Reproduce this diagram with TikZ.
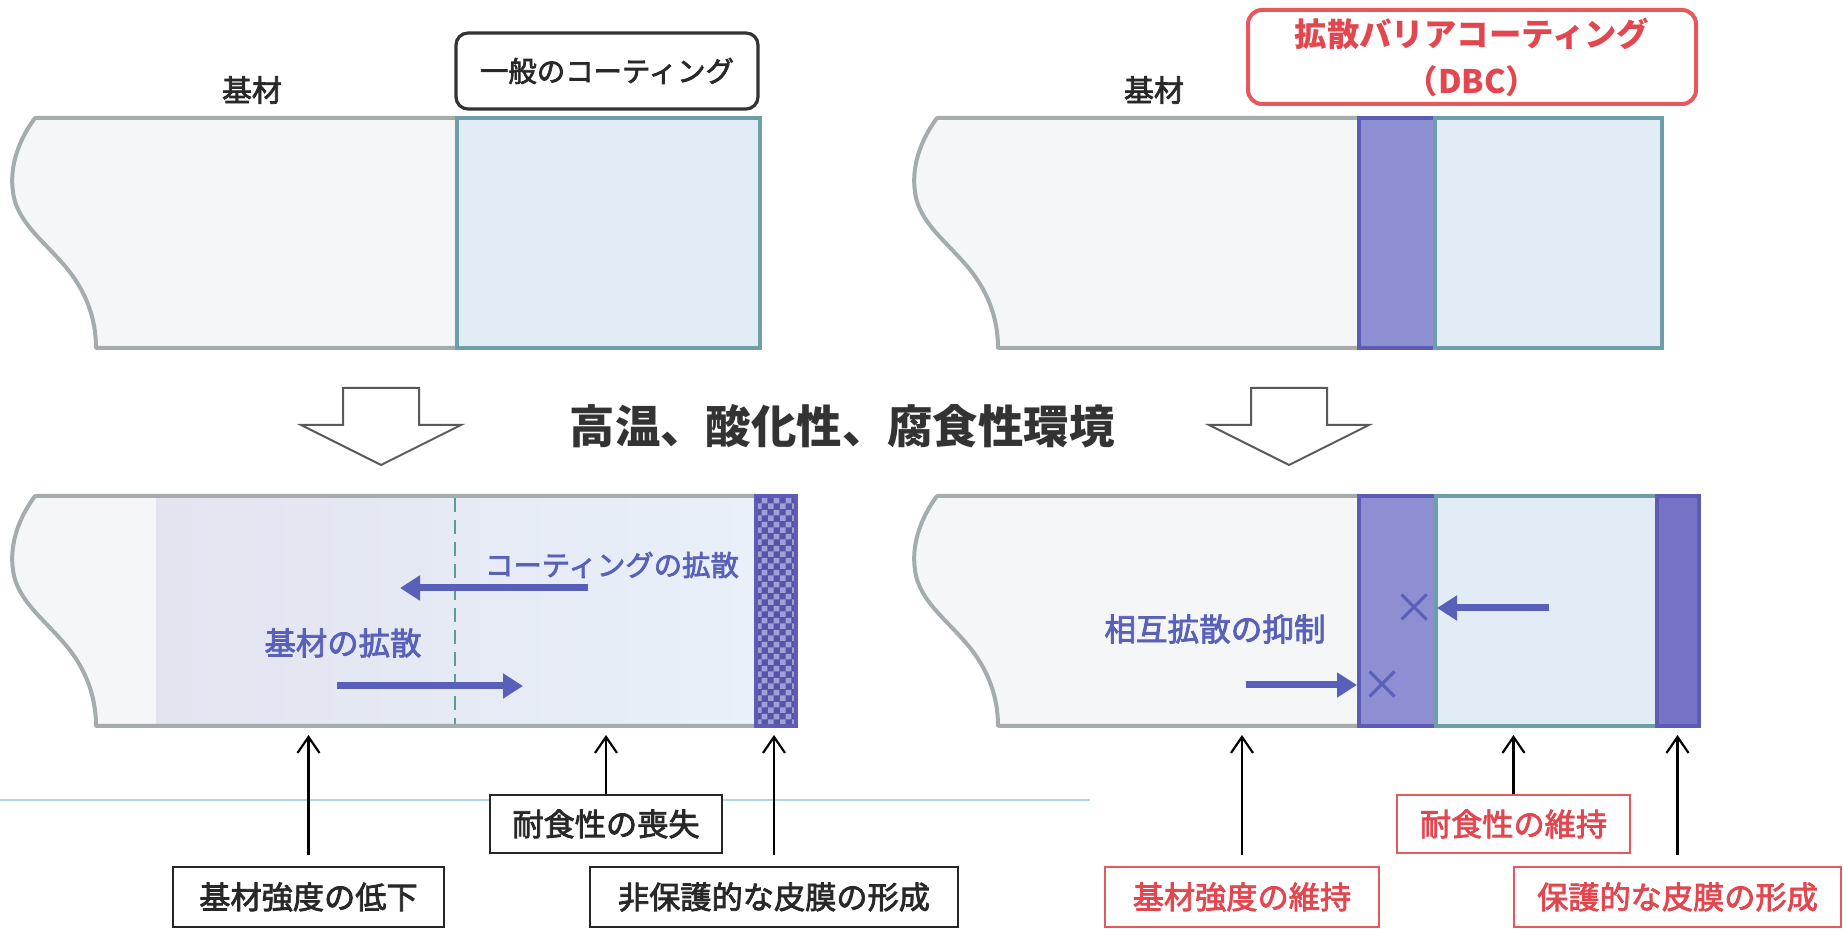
\documentclass[tikz,border=0pt]{standalone}
\usepackage{fontspec}
\setmainfont{Noto Sans CJK JP}
\newfontfamily\medfont{Noto Sans CJK JP}[FakeBold=2.5]
\usetikzlibrary{arrows.meta,patterns,shapes.misc}
\pgfdeclarepatternformonly{finecheck}{\pgfpointorigin}{\pgfqpoint{6pt}{6pt}}{\pgfqpoint{6pt}{6pt}}{%
  \pgfpathrectangle{\pgfpointorigin}{\pgfqpoint{3pt}{3pt}}%
  \pgfpathrectangle{\pgfqpoint{3pt}{3pt}}{\pgfqpoint{3pt}{3pt}}%
  \pgfusepath{fill}}
\definecolor{subfill}{RGB}{244,246,248}
\definecolor{suboutline}{RGB}{165,172,174}
\definecolor{coatfill}{RGB}{226,236,247}
\definecolor{coatline}{RGB}{110,158,166}
\definecolor{barfill}{RGB}{142,142,210}
\definecolor{barline}{RGB}{92,92,180}
\definecolor{outfill}{RGB}{116,115,198}
\definecolor{diffblue}{RGB}{88,96,185}
\definecolor{labred}{RGB}{226,70,78}
\definecolor{boxred}{RGB}{230,88,92}
\definecolor{darktext}{RGB}{40,40,40}
\definecolor{tealline}{RGB}{170,218,222}
\definecolor{chkdark}{RGB}{84,84,168}
\definecolor{chklight}{RGB}{160,160,212}
\definecolor{lav}{RGB}{226,228,240}
\definecolor{lblue}{RGB}{233,240,249}
\definecolor{dashteal}{RGB}{94,156,156}
\tikzset{
  substrate/.style={fill=subfill, draw=suboutline, line width=2pt, line join=round},
  coatlayer/.style={fill=coatfill, draw=coatline, line width=2pt},
  barrier/.style={fill=barfill, draw=barline, line width=2pt},
  outerlayer/.style={fill=outfill, draw=barline, line width=1.6pt},
  hollow/.style={fill=white, draw=black!65, line width=1pt, line join=miter},
  diffarrow/.style={draw=diffblue, line width=3.5pt, -{Triangle[width=12pt,length=10pt]}},
  xmark/.style={cross out, draw=diffblue, line width=1.5pt, minimum size=11pt, inner sep=0pt},
  blacklabel/.style={font=\medfont\fontsize{15pt}{18pt}\selectfont, text=darktext, inner sep=0pt},
  bluelabel/.style={text=diffblue, inner sep=0pt},
  effbox/.style={draw=black!85, fill=white, line width=1.2pt, minimum height=30pt, inner sep=0pt, font=\medfont\fontsize{15.6pt}{18pt}\selectfont, text=darktext},
  redbox/.style={effbox, draw=boxred, text=labred},
  uparrow/.style={draw=black, line width=1.1pt, -{Straight Barb[length=8pt,width=11pt]}}
}
\begin{document}
\begin{tikzpicture}[x=0.5pt,y=-0.5pt]
\useasboundingbox (0,0) rectangle (1843,929);

% ---------- top left panel ----------
\path[substrate] (457,118) -- (35,118) .. controls (20,138) and (9,165) .. (13,192) .. controls (17,225) and (50,245) .. (72,275) .. controls (90,300) and (96,325) .. (96,348) -- (457,348) -- cycle;
\path[coatlayer] (457,118) rectangle (760,348);

% ---------- top right panel ----------
\begin{scope}[shift={(902,0)}]
\path[substrate] (457,118) -- (35,118) .. controls (20,138) and (9,165) .. (13,192) .. controls (17,225) and (50,245) .. (72,275) .. controls (90,300) and (96,325) .. (96,348) -- (457,348) -- cycle;
\path[barrier] (457,118) rectangle (533,348);
\path[coatlayer] (533,118) rectangle (760,348);
\end{scope}

% ---------- labels top ----------
\node[blacklabel] (sub1) at (252,90) {基材};
\node[draw=black!80, line width=1.6pt, rounded corners=6pt, minimum width=151pt, minimum height=38pt, inner sep=0pt, font=\medfont\fontsize{14.2pt}{17pt}\selectfont, text=darktext] (gen) at (607,71) {一般のコーティング};
\node[blacklabel] (sub2) at (1154,90) {基材};
\node[draw=boxred, line width=2pt, rounded corners=7pt, minimum width=224pt, minimum height=47pt, inner sep=0pt, align=center, text=labred, font=\fontsize{16.2pt}{23.5pt}\selectfont\bfseries] (dbc) at (1472,57) {拡散バリアコーティング\\（DBC）};

% ---------- hollow arrows and heading ----------
\path[hollow] (343,388) -- (419,388) -- (419,425) -- (461,425) -- (381,465) -- (301,425) -- (343,425) -- cycle;
\path[hollow] (1251,388) -- (1327,388) -- (1327,425) -- (1369,425) -- (1289,465) -- (1209,425) -- (1251,425) -- cycle;
\node[font=\fontsize{22.7pt}{26pt}\selectfont\bfseries, text=black!80, inner sep=0pt] (env) at (842,426) {高温、酸化性、腐食性環境};

% ---------- bottom left panel ----------
\begin{scope}[shift={(0,378)}]
\fill[subfill] (756,118) -- (35,118) .. controls (20,138) and (9,165) .. (13,192) .. controls (17,225) and (50,245) .. (72,275) .. controls (90,300) and (96,325) .. (96,348) -- (756,348) -- cycle;
\shade[left color=lav, right color=lblue] (156,118) rectangle (756,348);
\draw[suboutline, line width=2pt, line join=round] (756,118) -- (35,118) .. controls (20,138) and (9,165) .. (13,192) .. controls (17,225) and (50,245) .. (72,275) .. controls (90,300) and (96,325) .. (96,348) -- (756,348);
\draw[dashteal, line width=0.8pt, dash pattern=on 7pt off 4pt] (455,120) -- (455,346);
\fill[chkdark] (756,118) rectangle (796,348);
\fill[pattern=finecheck, pattern color=chklight] (756,118) rectangle (796,348);
\draw[barline, line width=1.6pt] (756,118) rectangle (796,348);
\end{scope}

% ---------- bottom right panel ----------
\begin{scope}[shift={(902,378)}]
\path[substrate] (457,118) -- (35,118) .. controls (20,138) and (9,165) .. (13,192) .. controls (17,225) and (50,245) .. (72,275) .. controls (90,300) and (96,325) .. (96,348) -- (457,348) -- cycle;
\path[barrier] (457,118) rectangle (534,348);
\path[coatlayer] (534,118) rectangle (755,348);
\path[outerlayer] (755,118) rectangle (797,348);
\end{scope}

% ---------- diffusion arrows and labels ----------
\node[bluelabel, font=\medfont\fontsize{14.2pt}{17pt}\selectfont] (cdiff) at (612,565) {コーティングの拡散};
\node[bluelabel, font=\medfont\fontsize{15.7pt}{18pt}\selectfont] (sdiff) at (343,643) {基材の拡散};
\node[bluelabel, font=\medfont\fontsize{15.8pt}{18pt}\selectfont] (inter) at (1215,629) {相互拡散の抑制};
\coordinate (ca1) at (588,588); \coordinate (ca2) at (400,588);
\coordinate (sa1) at (337,686); \coordinate (sa2) at (523,686);
\coordinate (da1) at (1549,608); \coordinate (da2) at (1437,608);
\coordinate (db1) at (1246,685); \coordinate (db2) at (1357,685);
\draw[diffarrow] (ca1) -- (ca2);
\draw[diffarrow] (sa1) -- (sa2);
\draw[diffarrow] (da1) -- (da2);
\draw[diffarrow] (db1) -- (db2);
\node[xmark] (x1) at (1414,607) {};
\node[xmark] (x2) at (1382,684) {};

% ---------- teal line ----------
\coordinate (tl1) at (0,800); \coordinate (tl2) at (1090,800);
\draw[tealline, line width=1pt] (tl1) -- (tl2);

% ---------- effect boxes ----------
\coordinate (tipline) at (0,735);
\node[effbox, minimum width=135.5pt] (b1) at (308.5,897) {基材強度の低下};
\node[effbox, minimum width=116pt, minimum height=29pt] (b2) at (606,824) {耐食性の喪失};
\node[effbox, minimum width=184pt] (b3) at (774,897) {非保護的な皮膜の形成};
\node[redbox, minimum width=137pt] (r1) at (1242,897) {基材強度の維持};
\node[redbox, minimum width=116.5pt, minimum height=29pt] (r2) at (1513.5,824) {耐食性の維持};
\node[redbox, minimum width=163.5pt] (r3) at (1677.5,897) {保護的な皮膜の形成};

\draw[uparrow] ([yshift=5.5pt]b1.north) -- (b1.north |- tipline);
\draw[uparrow] (b2.north) -- (b2.north |- tipline);
\draw[uparrow] ([yshift=5.5pt]b3.north) -- (b3.north |- tipline);
\draw[uparrow] ([yshift=5.5pt]r1.north) -- (r1.north |- tipline);
\draw[uparrow] (r2.north) -- (r2.north |- tipline);
\draw[uparrow] ([yshift=5.5pt]r3.north) -- (r3.north |- tipline);
\end{tikzpicture}
\end{document}
